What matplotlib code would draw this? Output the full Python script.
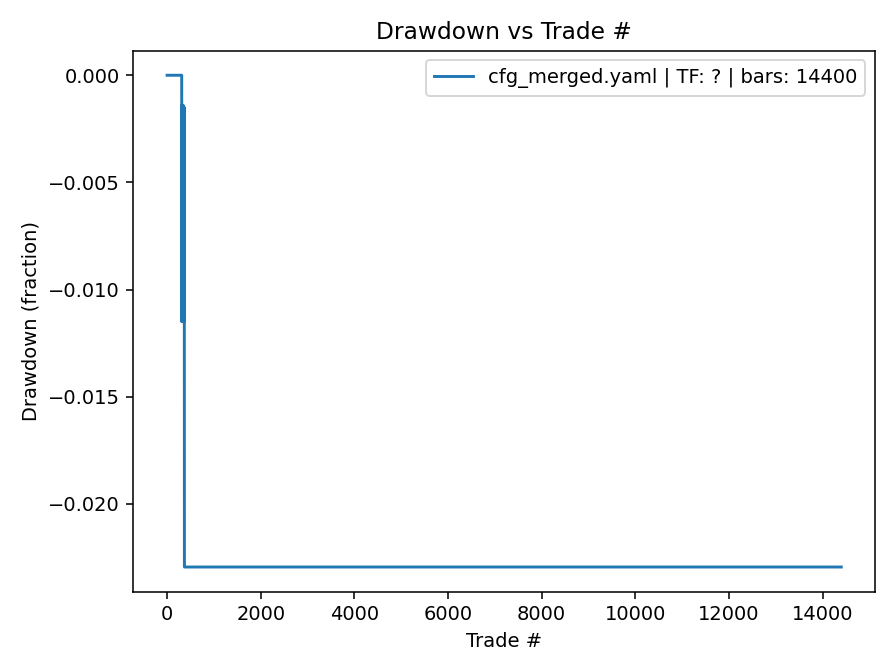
import matplotlib
matplotlib.use("Agg")
import matplotlib.pyplot as plt

# drawdown curve
trades = [0, 312, 314, 318, 322, 326, 330, 334, 338, 342, 346, 350, 354, 358, 362, 366, 370, 14400]
drawdown = [0.0, 0.0, -0.0115, -0.0014, -0.0112, -0.0016, -0.0114, -0.0015,
            -0.0110, -0.0014, -0.0115, -0.0016, -0.0113, -0.0015, -0.0115, -0.0015,
            -0.02295, -0.02295]
label = "cfg_merged.yaml | TF: ? | bars: 14400"

fig, ax = plt.subplots(figsize=(6.4, 4.8), dpi=140)
ax.plot(trades, drawdown, label=label)
ax.set_title("Drawdown vs Trade #")
ax.set_xlabel("Trade #")
ax.set_ylabel("Drawdown (fraction)")
ax.legend(loc="upper right")
fig.tight_layout()
fig.savefig("out.png")
